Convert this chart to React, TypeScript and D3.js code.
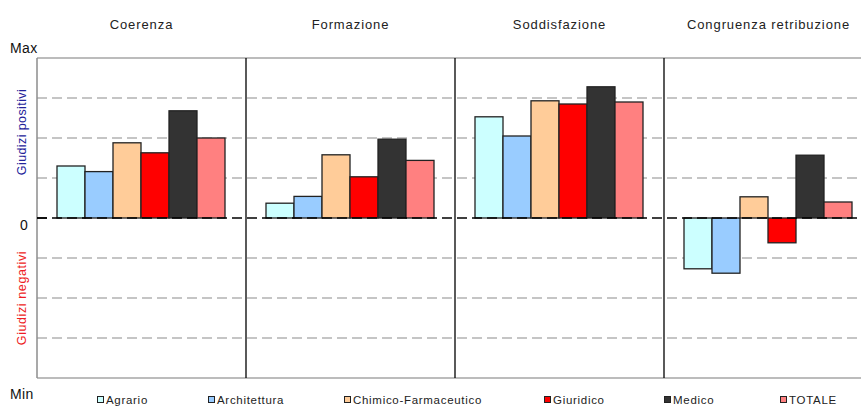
import React from "react";
import * as d3 from "d3";

const panels = ["Coerenza", "Formazione", "Soddisfazione", "Congruenza retribuzione"];
const categories = ["Agrario", "Architettura", "Chimico-Farmaceutico", "Giuridico", "Medico", "TOTALE"];
const colors = ["#ccffff", "#99ccff", "#ffcc99", "#ff0000", "#333333", "#ff8080"];

// values per panel, one per category (scale -4 = Min .. 4 = Max)
const coerenza = [1.3, 1.16, 1.88, 1.63, 2.68, 2.0];
const formazione = [0.37, 0.54, 1.58, 1.03, 1.97, 1.44];
const soddisfazione = [2.53, 2.05, 2.93, 2.85, 3.28, 2.9];
const congruenza = [-1.27, -1.38, 0.53, -0.62, 1.57, 0.4];
const seriesByPanel = [coerenza, formazione, soddisfazione, congruenza];

const gridTicks = [-3, -2, -1, 1, 2, 3];
const legendX = [97, 208, 344, 544, 664, 780];

const W = 861;
const H = 407;
const left = 37;
const panelW = 209;
const top = 58;
const bottom = 378;
const font = "'Liberation Sans', Arial, sans-serif";

export default function App() {
  const y = d3.scaleLinear().domain([-4, 4]).range([bottom, top]);
  const px = d3.scaleBand<string>().domain(panels).range([left, left + panelW * panels.length]).padding(0);
  const cx = d3.scaleBand<string>().domain(categories).range([20, panelW - 21]).padding(0);
  const right = left + panelW * panels.length;

  return (
    <svg width={W} height={H} style={{ position: "absolute", left: 0, top: 0, background: "#fff" }} fontFamily={font}>
      {/* grid */}
      {gridTicks.map((t) => (
        <line key={t} x1={left} x2={right} y1={y(t)} y2={y(t)} stroke="#b3b3b3" strokeWidth={1.5} strokeDasharray="10,5" />
      ))}
      <line x1={left} x2={right} y1={y(4)} y2={y(4)} stroke="#a6a6a6" strokeWidth={1.5} />
      <line x1={left} x2={right} y1={y(-4)} y2={y(-4)} stroke="#a6a6a6" strokeWidth={1.5} />
      <line x1={left} x2={left} y1={y(4)} y2={y(-4)} stroke="#8c8c8c" strokeWidth={1.5} />

      {/* bars */}
      {panels.map((p, pi) => (
        <g key={p} transform={`translate(${px(p)},0)`}>
          {seriesByPanel[pi].map((v, ci) => (
            <rect
              key={ci}
              x={cx(categories[ci])}
              y={y(Math.max(0, v))}
              width={cx.bandwidth()}
              height={Math.abs(y(v) - y(0))}
              fill={colors[ci]}
              stroke="#222"
              strokeWidth={1.3}
            />
          ))}
        </g>
      ))}

      {/* zero line */}
      <line x1={left} x2={right} y1={y(0)} y2={y(0)} stroke="#000" strokeWidth={1.5} strokeDasharray="10,5" />
      <line x1={left} x2={left + 10} y1={y(0)} y2={y(0)} stroke="#000" strokeWidth={1.5} />

      {/* dividers */}
      {panels.slice(1).map((p) => (
        <line key={p} x1={px(p)} x2={px(p)} y1={y(4)} y2={y(-4)} stroke="#000" strokeWidth={1.3} />
      ))}

      {/* panel titles */}
      {panels.map((p) => (
        <text key={p} x={(px(p) as number) + panelW / 2} y={29} textAnchor="middle" fontSize={13} letterSpacing={0.9} fill="#222">
          {p}
        </text>
      ))}

      {/* y labels */}
      <text x={10} y={53} fontSize={14} fill="#111" letterSpacing={0.4}>Max</text>
      <text x={20} y={230} fontSize={14} fill="#111">0</text>
      <text x={10} y={399} fontSize={14} fill="#111" letterSpacing={0.4}>Min</text>
      <text transform="translate(26,132) rotate(-90)" textAnchor="middle" fontSize={12.5} letterSpacing={0.4} fill="#23239a">
        Giudizi positivi
      </text>
      <text transform="translate(26,298) rotate(-90)" textAnchor="middle" fontSize={12.5} letterSpacing={0.6} fill="#ee1c24">
        Giudizi negativi
      </text>

      {/* legend */}
      {categories.map((c, i) => (
        <g key={c} transform={`translate(${legendX[i]},0)`}>
          <rect x={0.5} y={396.5} width={6} height={6} fill={colors[i]} stroke="#222" strokeWidth={1} />
          <text x={9} y={404} fontSize={11.5} letterSpacing={0.7} fill="#222">{c}</text>
        </g>
      ))}
    </svg>
  );
}
